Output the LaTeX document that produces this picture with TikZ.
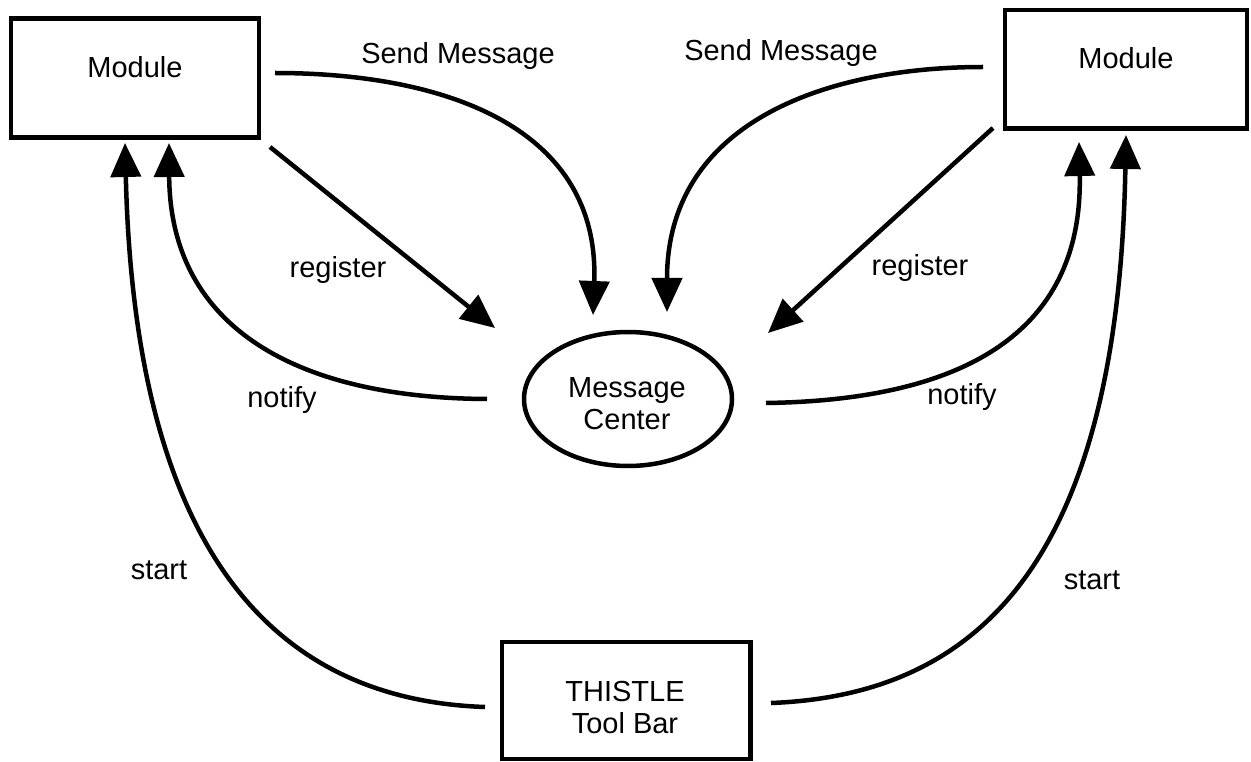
\documentclass[tikz,border=0pt]{standalone}
\usepackage{fontspec}
\setmainfont{Liberation Sans}
\usetikzlibrary{arrows.meta,shapes.geometric}
\begin{document}
\begin{tikzpicture}[x=1pt,y=-1pt,
  lbl/.style={font=\fontsize{29}{32}\selectfont, inner sep=0pt, align=center},
  boxnode/.style={draw, line width=4.5pt, rectangle, inner sep=0pt},
  ellnode/.style={draw, line width=4.5pt, ellipse, inner sep=0pt},
  conn/.style={line width=4.5pt, -{Triangle[length=34pt,width=30pt]}}]
\useasboundingbox (0,0) rectangle (1251,762);

% boxes
\node[boxnode, minimum width=248pt, minimum height=119pt] (modL) at (135,78) {};
\node[lbl] (modLt) at (135,67.5) {Module};
\node[boxnode, minimum width=242pt, minimum height=118.5pt] (modR) at (1126,69.25) {};
\node[lbl] (modRt) at (1126,58) {Module};
\node[ellnode, minimum width=208pt, minimum height=134pt] (mc) at (628,399) {};
\node[lbl] (mct) at (627,404) {Message\\Center};
\node[boxnode, minimum width=248.5pt, minimum height=117pt] (tb) at (626,700.5) {};
\node[lbl] (tbt) at (625,707.5) {THISTLE\\Tool Bar};

% connector end points
\coordinate (smLs) at (275,73);
\coordinate (smLe) at (593,315);
\coordinate (smRs) at (983,67);
\coordinate (smRe) at (667,312);
\coordinate (rgLs) at (270,147);
\coordinate (rgLe) at (495,328);
\coordinate (rgRs) at (993,128);
\coordinate (rgRe) at (768,333);
\coordinate (ntLs) at (487,399);
\coordinate (ntLe) at (169,143);
\coordinate (ntRs) at (766,403);
\coordinate (ntRe) at (1079,142);
\coordinate (stLs) at (485,707);
\coordinate (stLe) at (125,143);
\coordinate (stRs) at (771,703);
\coordinate (stRe) at (1126,135);

% connectors
\draw[conn] (smLs) .. controls (450,73) and (600,130) .. (smLe);
\draw[conn] (smRs) .. controls (830,67) and (667,120) .. (smRe);
\draw[conn] (rgLs) -- (rgLe);
\draw[conn] (rgRs) -- (rgRe);
\draw[conn] (ntLs) .. controls (300,398) and (170,330) .. (ntLe);
\draw[conn] (ntRs) .. controls (975,400) and (1083,325) .. (ntRe);
\draw[conn] (stLs) .. controls (280,700) and (135,560) .. (stLe);
\draw[conn] (stRs) .. controls (980,695) and (1118,560) .. (stRe);

% labels
\node[lbl] (smLl) at (458,56) {Send Message};
\node[lbl] (smRl) at (781,53) {Send Message};
\node[lbl] (rgLl) at (338,270) {register};
\node[lbl] (rgRl) at (920,268) {register};
\node[lbl] (ntLl) at (282,400) {notify};
\node[lbl] (ntRl) at (962,397) {notify};
\node[lbl] (stLl) at (159,570) {start};
\node[lbl] (stRl) at (1092,580) {start};
\end{tikzpicture}
\end{document}
